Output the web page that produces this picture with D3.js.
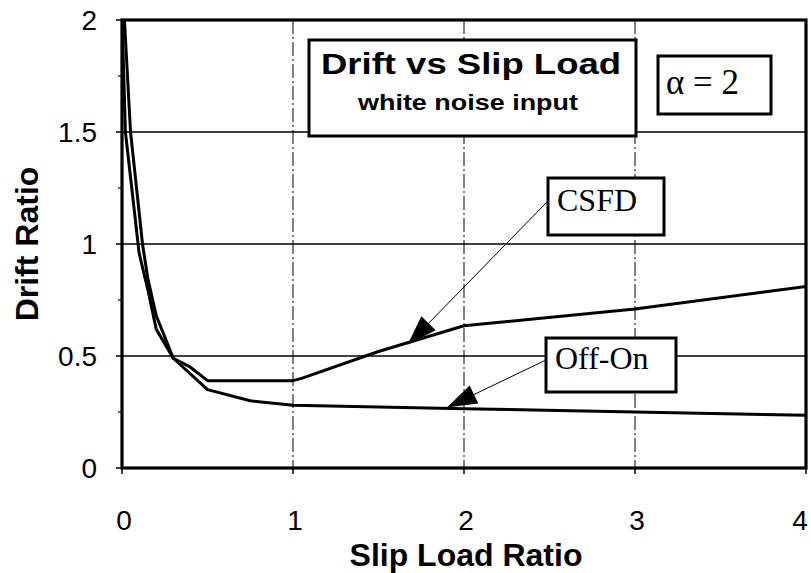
<!DOCTYPE html>
<html>
<head>
  <meta charset="UTF-8">
  <style>
body{
    margin: 0;
    background: #fff;
}
svg text{
    fill: #000;
}
  </style>
</head>
<body>
<svg></svg>

<script src="https://d3js.org/d3.v7.min.js"></script>

<script>

let width = 811, height = 573;

// values
let csfdX  = [0, 0.02, 0.1, 0.15, 0.2, 0.3, 0.4, 0.5, 1.0, 1.05, 1.5, 2.0, 3.0, 4.0];
let csfdY  = [2.02, 1.5, 0.96, 0.8, 0.62, 0.49, 0.45, 0.39, 0.39, 0.4, 0.52, 0.635, 0.71, 0.81];
let offOnX = [0, 0.05, 0.12, 0.15, 0.2, 0.3, 0.5, 0.75, 1.0, 2.0, 3.0, 4.0];
let offOnY = [2.2, 1.5, 1.0, 0.85, 0.68, 0.49, 0.35, 0.3, 0.28, 0.265, 0.25, 0.235];

let xTicks = [0, 1, 2, 3, 4];
let yTicks = [0, 0.5, 1, 1.5, 2];
let yMinor = [0.25, 0.75, 1.25, 1.75];

let xTitle = "Slip Load Ratio";
let yTitle = "Drift Ratio";
let chartTitle = "Drift vs Slip Load";
let chartSub = "white noise input";
let paramLabel = "\u03b1 = 2";

let labels = [
    {name: "CSFD",   box: [548, 178, 116, 57], tail: [547, 202], tip: [1.67, 0.55]},
    {name: "Off-On", box: [546, 338, 130, 54], tail: [546, 360], tip: [1.9, 0.27]}
];

let svg = d3.select("svg")
    .attr("width", width)
    .attr("height", height)
    .attr("viewBox", "0 0 " + width + " " + height)

let x = d3.scaleLinear().domain([0, 4]).range([122, 806]);
let y = d3.scaleLinear().domain([0, 2]).range([468, 20]);

let sans = "Arial, 'Liberation Sans', Helvetica, sans-serif";
let serif = "'Times New Roman', 'Liberation Serif', serif";

svg.append("defs").append("clipPath").attr("id", "plotclip")
  .append("rect")
    .attr("x", x(0)).attr("y", y(2))
    .attr("width", x(4) - x(0)).attr("height", y(0) - y(2));

// grid
svg.append("g")
  .selectAll("line")
  .data(yTicks.filter(d => d > 0 && d < 2))
  .enter()
  .append("line")
    .attr("x1", x(0)).attr("x2", x(4))
    .attr("y1", d => y(d)).attr("y2", d => y(d))
    .attr("stroke", "#000")
    .attr("stroke-width", 1.4)

svg.append("g")
  .selectAll("line")
  .data(xTicks.filter(d => d > 0 && d < 4))
  .enter()
  .append("line")
    .attr("x1", d => x(d)).attr("x2", d => x(d))
    .attr("y1", y(2)).attr("y2", y(0))
    .attr("stroke", "#000")
    .attr("stroke-width", 1)
    .attr("stroke-dasharray", "14,3,2,3")

// ticks
svg.append("g")
  .selectAll("line")
  .data(yTicks)
  .enter()
  .append("line")
    .attr("x1", x(0) - 6).attr("x2", x(0))
    .attr("y1", d => y(d)).attr("y2", d => y(d))
    .attr("stroke", "#000").attr("stroke-width", 1.5)

svg.append("g")
  .selectAll("line")
  .data(yMinor)
  .enter()
  .append("line")
    .attr("x1", x(0) - 4).attr("x2", x(0))
    .attr("y1", d => y(d)).attr("y2", d => y(d))
    .attr("stroke", "#000").attr("stroke-width", 1.2)

svg.append("g")
  .selectAll("line")
  .data(xTicks)
  .enter()
  .append("line")
    .attr("x1", d => x(d)).attr("x2", d => x(d))
    .attr("y1", y(0)).attr("y2", y(0) + 6)
    .attr("stroke", "#000").attr("stroke-width", 1.5)

// curves
let line = d3.line().x(d => x(d[0])).y(d => y(d[1]));

let series = [
    d3.zip(csfdX, csfdY),
    d3.zip(offOnX, offOnY)
];

svg.append("g")
    .attr("clip-path", "url(#plotclip)")
  .selectAll("path")
  .data(series)
  .enter()
  .append("path")
    .attr("d", line)
    .attr("fill", "none")
    .attr("stroke", "#000")
    .attr("stroke-width", 3)
    .attr("stroke-linejoin", "round")

// frame
svg.append("rect")
    .attr("x", x(0)).attr("y", y(2))
    .attr("width", x(4) - x(0)).attr("height", y(0) - y(2))
    .attr("fill", "none")
    .attr("stroke", "#000")
    .attr("stroke-width", 3.2)

// tick labels
svg.append("g")
  .selectAll("text")
  .data(yTicks)
  .enter()
  .append("text")
    .attr("x", 97)
    .attr("y", d => y(d))
    .attr("dy", "0.36em")
    .attr("text-anchor", "end")
    .style("font-family", sans)
    .style("font-size", "28px")
    .text(d => d)

svg.append("g")
  .selectAll("text")
  .data(xTicks)
  .enter()
  .append("text")
    .attr("x", d => d == 4 ? x(d) - 6 : x(d) + 2)
    .attr("y", 530)
    .attr("text-anchor", "middle")
    .style("font-family", sans)
    .style("font-size", "28px")
    .text(d => d)

svg.append("text")
    .attr("x", (x(0) + x(4)) / 2 + 2)
    .attr("y", 566)
    .attr("text-anchor", "middle")
    .style("font-family", sans)
    .style("font-size", "32px")
    .style("font-weight", "bold")
    .text(xTitle)

svg.append("text")
    .attr("transform", "translate(38," + ((y(0) + y(2)) / 2) + ") rotate(-90)")
    .attr("text-anchor", "middle")
    .style("font-family", sans)
    .style("font-size", "32px")
    .style("font-weight", "bold")
    .text(yTitle)

// title box
svg.append("rect")
    .attr("x", 309).attr("y", 40)
    .attr("width", 327).attr("height", 96)
    .attr("fill", "#fff")
    .attr("stroke", "#000")
    .attr("stroke-width", 3)

svg.append("text")
    .attr("x", 321).attr("y", 74)
    .attr("textLength", 300)
    .attr("lengthAdjust", "spacingAndGlyphs")
    .style("font-family", sans)
    .style("font-size", "30px")
    .style("font-weight", "bold")
    .text(chartTitle)

svg.append("text")
    .attr("x", 358).attr("y", 110)
    .attr("textLength", 220)
    .attr("lengthAdjust", "spacingAndGlyphs")
    .style("font-family", sans)
    .style("font-size", "22px")
    .style("font-weight", "bold")
    .text(chartSub)

svg.append("rect")
    .attr("x", 658).attr("y", 56)
    .attr("width", 113).attr("height", 58)
    .attr("fill", "#fff")
    .attr("stroke", "#000")
    .attr("stroke-width", 3)

svg.append("text")
    .attr("x", 666).attr("y", 94)
    .style("font-family", serif)
    .style("font-size", "35px")
    .text(paramLabel)

// series labels with arrows
labels.forEach(l => {
    let tx = x(l.tip[0]), ty = y(l.tip[1]);
    let dx = l.tail[0] - tx, dy = l.tail[1] - ty;
    let len = Math.sqrt(dx * dx + dy * dy);
    let ux = dx / len, uy = dy / len;
    let hl = 30, hw = 10;
    let bx = tx + ux * hl, by = ty + uy * hl;

    svg.append("line")
        .attr("x1", l.tail[0]).attr("y1", l.tail[1])
        .attr("x2", bx).attr("y2", by)
        .attr("stroke", "#000")
        .attr("stroke-width", 1)

    svg.append("path")
        .attr("d", "M" + tx + "," + ty
            + "L" + (bx - uy * hw) + "," + (by + ux * hw)
            + "L" + (bx + uy * hw) + "," + (by - ux * hw) + "Z")
        .attr("fill", "#000")

    svg.append("rect")
        .attr("x", l.box[0]).attr("y", l.box[1])
        .attr("width", l.box[2]).attr("height", l.box[3])
        .attr("fill", "#fff")
        .attr("stroke", "#000")
        .attr("stroke-width", 3)

    svg.append("text")
        .attr("x", l.box[0] + 9)
        .attr("y", l.box[1] + (l.name == "CSFD" ? 33 : 31))
        .style("font-family", serif)
        .style("font-size", "32px")
        .text(l.name)
})

</script>
</body>
</html>
